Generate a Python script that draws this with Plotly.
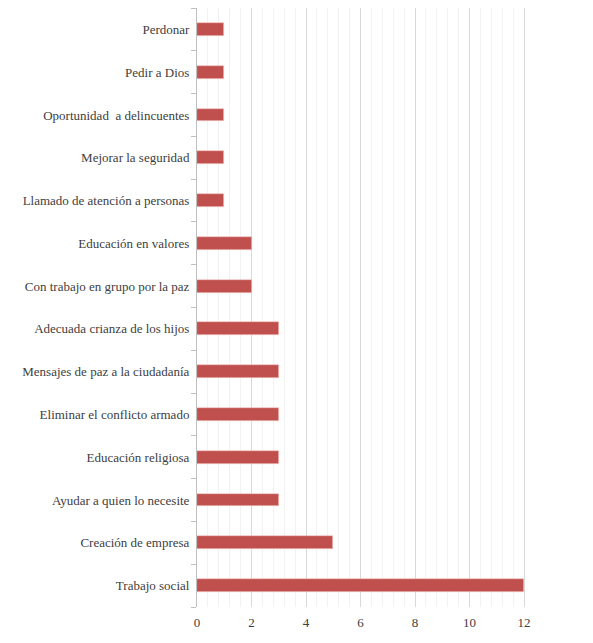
import plotly.graph_objects as go

categorias = [
    "Trabajo social",
    "Creación de empresa",
    "Ayudar a quien lo necesite",
    "Educación religiosa",
    "Eliminar el conflicto armado",
    "Mensajes de paz a la ciudadanía",
    "Adecuada crianza de los hijos",
    "Con trabajo en grupo por la paz",
    "Educación en valores",
    "Llamado de atención a personas",
    "Mejorar la seguridad",
    "Oportunidad  a delincuentes",
    "Pedir a Dios",
    "Perdonar",
]
valores = [12, 5, 3, 3, 3, 3, 3, 2, 2, 1, 1, 1, 1, 1]
ticks_x = [0, 2, 4, 6, 8, 10, 12]

fig = go.Figure(go.Bar(
    x=valores,
    y=categorias,
    orientation="h",
    width=0.3,
    marker=dict(color="#C0504D", line=dict(color="#F2C9C8", width=0.6)),
))

fig.update_layout(
    width=593, height=643,
    margin=dict(l=189, r=66, t=0, b=44),
    paper_bgcolor="white", plot_bgcolor="white",
    font=dict(family="Liberation Serif", size=13, color="#404040"),
    showlegend=False,
    bargap=0,
)
fig.update_xaxes(
    range=[0, 12.4],
    tickvals=ticks_x,
    showgrid=True, gridcolor="#D9D9D9", gridwidth=1,
    minor=dict(dtick=0.4, showgrid=True, gridcolor="#F2F2F2", gridwidth=1),
    zeroline=False,
    showline=False,
    ticks="",
    ticklabelstandoff=6,
    automargin=False,
)
fig.update_yaxes(
    categoryorder="array", categoryarray=categorias,
    showline=True, linecolor="#BFBFBF", linewidth=1,
    ticks="outside", tickson="boundaries", ticklen=5, tickcolor="#BFBFBF",
    showgrid=False,
    ticklabelstandoff=4,
    automargin=False,
)

fig.write_html("out.html")
